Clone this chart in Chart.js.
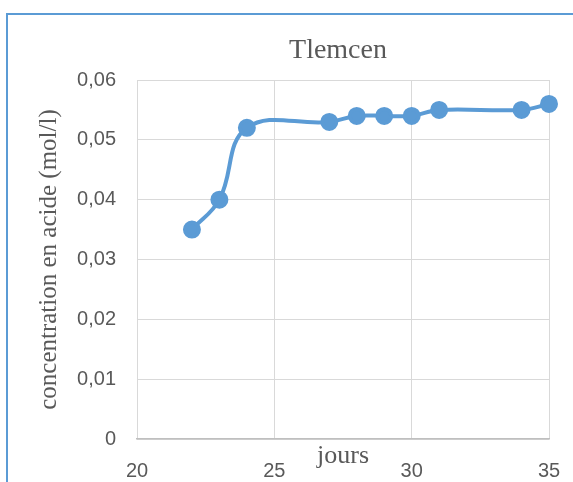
<!DOCTYPE html>
<html>
<head>
<meta charset="utf-8">
<script src="https://cdn.jsdelivr.net/npm/chart.js@4/dist/chart.umd.min.js"></script>
<style>
  html, body { margin: 0; padding: 0; background: #fff; overflow: hidden; }
  #wrap { position: relative; width: 573px; height: 482px; }
  #frame { position: absolute; left: 6px; top: 13px; width: 700px; height: 600px;
           border-left: 2px solid #5b9bd5; border-top: 2px solid #5b9bd5; }
  #myCanvas { position: absolute; left: 0; top: 0; }
</style>
</head>
<body>
<div id="wrap">
  <div id="frame"></div>
  <canvas id="myCanvas" width="573" height="482"></canvas>
</div>
<script>
// jours / concentration en acide (mol/l)
const days = [22, 23, 24, 27, 28, 29, 30, 31, 34, 35];
const concentration = [0.035, 0.040, 0.052, 0.053, 0.054, 0.054, 0.054, 0.055, 0.055, 0.056];
const chartTitle = 'Tlemcen';
const xTitle = 'jours';
const yTitle = 'concentration en acide (mol/l)';

const grey = '#595959';
const blue = '#5b9bd5';

// title centred over the plot area, like Excel does
const titlePlugin = {
    id: 'plotTitle',
    afterDraw(chart) {
        const ctx = chart.ctx;
        const area = chart.chartArea;
        ctx.save();
        ctx.font = '28px "Liberation Serif"';
        ctx.fillStyle = grey;
        ctx.textAlign = 'center';
        ctx.textBaseline = 'alphabetic';
        ctx.fillText(chartTitle, (area.left + area.right) / 2 - 5, 58);
        ctx.restore();
    }
};

function init() {
    const ctx = document.getElementById('myCanvas').getContext('2d');
    const myChart = new Chart(ctx, {
        type: 'scatter',
        data: {
            datasets: [{
                label: chartTitle,
                data: days.map((d, i) => ({x: d, y: concentration[i]})),
                showLine: true,
                tension: 0.4,
                clip: false,
                borderColor: blue,
                borderWidth: 4,
                backgroundColor: blue,
                pointBackgroundColor: blue,
                pointBorderColor: blue,
                pointRadius: 7,
                pointHoverRadius: 7
            }]
        },
        options: {
            responsive: false,
            animation: false,
            layout: { padding: { top: 80, right: 24, left: 0, bottom: 0 } },
            plugins: {
                legend: { display: false },
                title: { display: false },
                tooltip: { enabled: false }
            },
            scales: {
                x: {
                    type: 'linear',
                    min: 20,
                    max: 35,
                    ticks: {
                        stepSize: 5,
                        padding: 20,
                        color: grey,
                        font: { family: '"Liberation Sans"', size: 20 }
                    },
                    grid: { color: '#d9d9d9', lineWidth: 1, drawTicks: false },
                    border: { color: '#bfbfbf', width: 1.5 },
                    title: {
                        display: true,
                        text: xTitle,
                        color: grey,
                        font: { family: '"Liberation Serif"', size: 26 },
                        padding: { top: 0, bottom: 10 }
                    },
                    afterFit(scale) {
                        scale.height = 43;
                        scale.paddingLeft = 0;
                        scale.paddingRight = 0;
                    }
                },
                y: {
                    min: 0,
                    max: 0.06,
                    ticks: {
                        stepSize: 0.01,
                        padding: 21,
                        color: grey,
                        font: { family: '"Liberation Sans"', size: 20 },
                        callback: v => v === 0 ? '0' : v.toFixed(2).replace('.', ',')
                    },
                    grid: { color: '#d9d9d9', lineWidth: 1, drawTicks: false },
                    border: { display: false },
                    title: {
                        display: true,
                        text: yTitle,
                        color: grey,
                        font: { family: '"Liberation Serif"', size: 25 },
                        padding: { top: 34, bottom: 0 }
                    },
                    afterFit(scale) { scale.width = 137; }
                }
            }
        },
        plugins: [titlePlugin]
    });
}

document.addEventListener('DOMContentLoaded', init);
</script>
</body>
</html>
